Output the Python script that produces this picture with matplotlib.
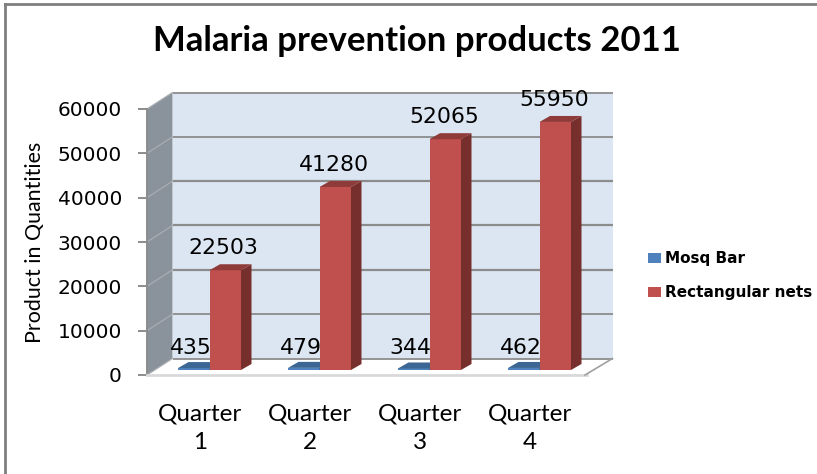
import matplotlib
matplotlib.use("Agg")
import matplotlib.pyplot as plt
from matplotlib.patches import Polygon

quarters = ["Quarter\n1", "Quarter\n2", "Quarter\n3", "Quarter\n4"]
mosq_bar = [435, 479, 344, 462]
rect_nets = [22503, 41280, 52065, 55950]
y_ticks = [0, 10000, 20000, 30000, 40000, 50000, 60000]

W, H = 817, 474
# front plane of the 3d box, in pixels
LEFT, RIGHT, TOP, BOTTOM = 147, 587, 109, 375
ymax = 60000


def px_x(p):
    return p / ((RIGHT - LEFT) / 4)


def px_y(p):
    return p / ((BOTTOM - TOP) / ymax)


# depth of the wall, depth of the bars, where bars stand on the floor
wall_dx, wall_dy = px_x(25.5), px_y(16.5)
bar_dx, bar_dy = px_x(10.5), px_y(6)
base_dx, base_dy = px_x(7.5), px_y(5)
bar_w = px_x(31.5)

fig = plt.figure(figsize=(W / 100, H / 100), dpi=100)
ax = fig.add_axes([LEFT / W, 1 - BOTTOM / H, (RIGHT - LEFT) / W, (BOTTOM - TOP) / H])
ax.set_xlim(0, 4)
ax.set_ylim(0, ymax)
ax.patch.set_visible(False)
for s in ax.spines.values():
    s.set_visible(False)

# walls and floor
ax.add_patch(Polygon([(wall_dx, wall_dy), (4 + wall_dx, wall_dy), (4 + wall_dx, ymax + wall_dy), (wall_dx, ymax + wall_dy)],
                     fc="#dce6f2", ec="none", clip_on=False, zorder=1))
ax.add_patch(Polygon([(0, 0), (wall_dx, wall_dy), (wall_dx, ymax + wall_dy), (0, ymax)],
                     fc="#8a939c", ec="none", clip_on=False, zorder=1))
ax.add_patch(Polygon([(0, 0), (4, 0), (4 + wall_dx, wall_dy), (wall_dx, wall_dy)],
                     fc="white", ec="none", clip_on=False, zorder=1))

# gridlines on both walls
for t in y_ticks:
    lw = 1.6 if t in (20000, 30000, 40000) else 1.3
    ax.plot([wall_dx, 4 + wall_dx], [t + wall_dy, t + wall_dy], color="#8c8c8c", lw=lw, clip_on=False, zorder=2, solid_capstyle="butt")
    ax.plot([0, wall_dx], [t, t + wall_dy], color="#a9adb1", lw=0.9, clip_on=False, zorder=2)
    ax.plot([px_x(-9), 0], [t, t], color="#8c8c8c", lw=1.4, clip_on=False, zorder=2, solid_capstyle="butt")

# box edges
ax.plot([0, 0], [0, ymax], color="#8c8c8c", lw=1.4, clip_on=False, zorder=2)
ax.plot([0, 4], [0, 0], color="#d9d9d9", lw=2.0, clip_on=False, zorder=2)
ax.plot([4 - px_x(2), 4 + wall_dx], [0, wall_dy], color="#a0a0a0", lw=1.2, clip_on=False, zorder=2)


def bar3d(x, v, front, side, top):
    x0 = x + base_dx
    y0 = base_dy
    ax.bar(x0, v, bar_w, bottom=y0, color=front, align="edge", zorder=4, clip_on=False)
    ax.add_patch(Polygon([(x0 + bar_w, y0), (x0 + bar_w + bar_dx, y0 + bar_dy), (x0 + bar_w + bar_dx, y0 + v + bar_dy), (x0 + bar_w, y0 + v)],
                         fc=side, ec="none", clip_on=False, zorder=4))
    ax.add_patch(Polygon([(x0, y0 + v), (x0 + bar_w, y0 + v), (x0 + bar_w + bar_dx, y0 + v + bar_dy), (x0 + bar_dx, y0 + v + bar_dy)],
                         fc=top, ec="none", clip_on=False, zorder=4))


for i in range(4):
    mid = i + 0.5
    bar3d(mid - bar_w, mosq_bar[i], "#4f81bd", "#2f5a8f", "#3c6694")
    bar3d(mid, rect_nets[i], "#c0504d", "#772f2d", "#8f3b39")
    # the small blue bars are just a sliver, so the label sits well above them
    ax.text(mid - bar_w + px_x(20), px_y(27), str(mosq_bar[i]), ha="center", va="center",
            fontsize=15.8, color="black", zorder=6, clip_on=False)
    ax.text(mid + bar_w * 0.5 + px_x(6), rect_nets[i] + px_y(27), str(rect_nets[i]), ha="center", va="center",
            fontsize=15.8, color="black", zorder=6, clip_on=False)

ax.set_xticks([])
ax.set_yticks([])
for t in y_ticks:
    ax.text(px_x(-25), t - px_y(2), str(t), ha="right", va="center", fontsize=14.5, color="black", clip_on=False)

for i, q in enumerate(quarters):
    ax.text(i + 0.5 + px_x(-2), px_y(-53), q, ha="center", va="center", fontsize=17.5, linespacing=1.45,
            family="Lato", clip_on=False)

fig.text(35 / W, 1 - 242 / H, "Product in Quantities", rotation=90, ha="center", va="center",
         fontsize=15.4, family="Lato")
fig.text(417 / W, 1 - 41 / H, "Malaria prevention products 2011", ha="center", va="center",
         fontsize=25, fontweight="bold", family="Lato")

# legend
leg_x = 648
for label, col, yy in [("Mosq Bar", "#4f81bd", 258), ("Rectangular nets", "#c0504d", 292)]:
    fig.patches.append(plt.Rectangle((leg_x / W, 1 - (yy + 5) / H), 13 / W, 10 / H, transform=fig.transFigure, fc=col, ec="none"))
    fig.text(665 / W, 1 - yy / H, label, ha="left", va="center", fontsize=11, fontweight="bold", family="DejaVu Sans")

# outer frame
frame = dict(color="#7f7f7f", lw=2, transform=fig.transFigure, clip_on=False)
fig.add_artist(plt.Line2D([5 / W, 5 / W], [0, 1 - 4 / H], **frame))
fig.add_artist(plt.Line2D([5 / W, 817 / W], [1 - 4 / H, 1 - 4 / H], **frame))

fig.savefig("out.png", dpi=100)
